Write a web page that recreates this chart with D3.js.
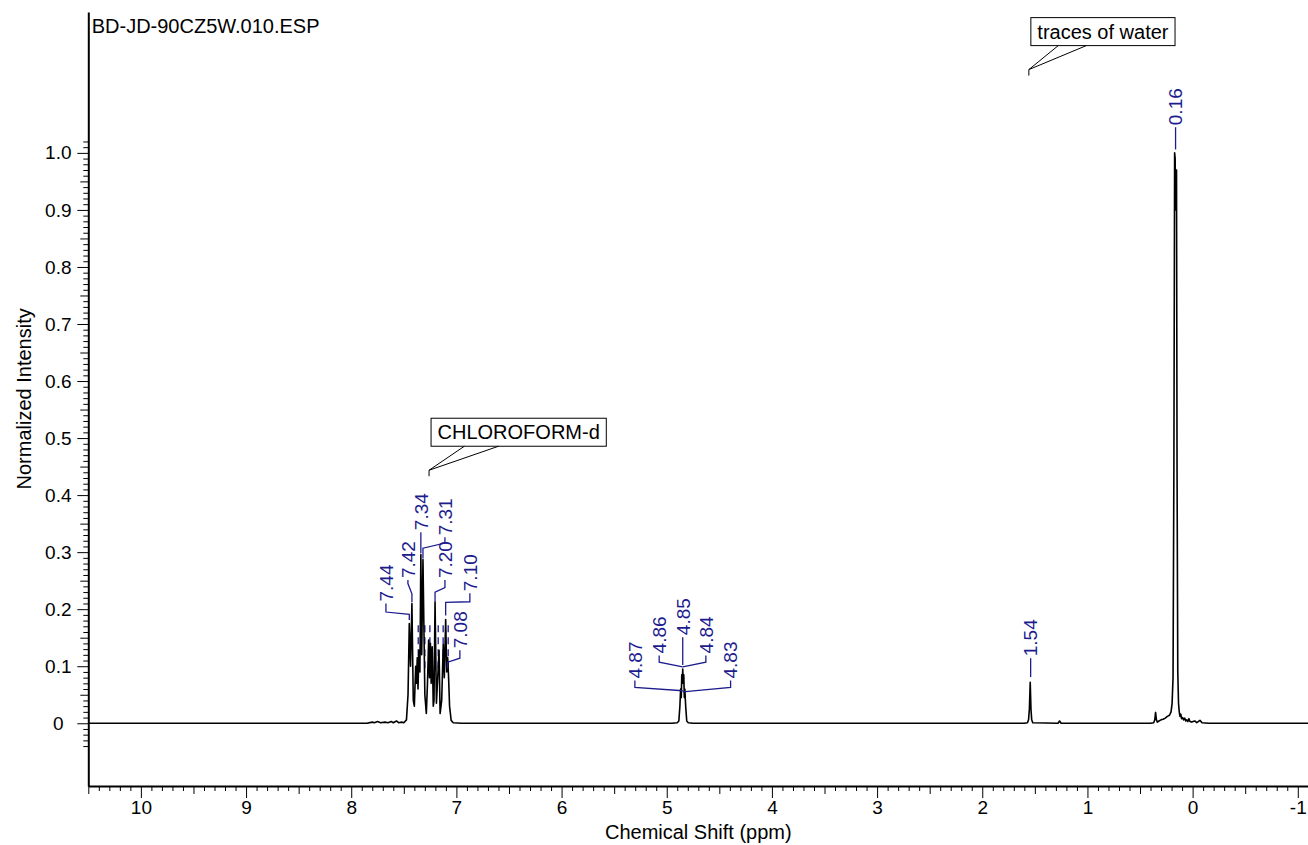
<!DOCTYPE html>
<meta charset="utf-8">
<style>
body {
  margin: 0;
  background: #fff;
}
svg {
  font-family: "Liberation Sans", Arial, sans-serif;
}
.axis path, .axis line {
  stroke: #000;
}
.axis text {
  font-size: 19px;
  fill: #000;
}
</style>
<body>
<script src="https://cdn.jsdelivr.net/npm/d3@7"></script>
<script>

// 1H NMR spectrum, normalized intensity vs chemical shift

var spectrumTitle = "BD-JD-90CZ5W.010.ESP";

// [ppm, intensity], high field to low
var spectrum = [
  [10.5, 0], [7.85, 0], [7.80, 0.002], [7.78, 0.001], [7.75, 0.003], [7.72, 0.001],
  [7.68, 0.002], [7.65, 0.001], [7.62, 0.003], [7.60, 0.001], [7.57, 0.004],
  [7.55, 0.001], [7.52, 0.002], [7.50, 0.001],
  [7.475, 0.006], [7.46, 0.05], [7.448, 0.175], [7.436, 0.10], [7.423, 0.210],
  [7.41, 0.04], [7.40, 0.03], [7.387, 0.10], [7.38, 0.07], [7.372, 0.115],
  [7.365, 0.06], [7.356, 0.128], [7.347, 0.09], [7.338, 0.296], [7.33, 0.12],
  [7.318, 0.287], [7.30, 0.05], [7.286, 0.017], [7.275, 0.07], [7.264, 0.146],
  [7.256, 0.08], [7.247, 0.14], [7.24, 0.07], [7.23, 0.134], [7.22, 0.03],
  [7.213, 0.04], [7.203, 0.213], [7.19, 0.035], [7.175, 0.09], [7.165, 0.128],
  [7.155, 0.017], [7.14, 0.04], [7.125, 0.138], [7.115, 0.08], [7.102, 0.182],
  [7.092, 0.09], [7.083, 0.115], [7.075, 0.084], [7.065, 0.03], [7.05, 0.005],
  [7.03, 0.001], [6.95, 0],
  [4.95, 0], [4.90, 0.001], [4.885, 0.004], [4.875, 0.03], [4.868, 0.06],
  [4.862, 0.045], [4.857, 0.085], [4.852, 0.07], [4.848, 0.095], [4.843, 0.07],
  [4.838, 0.085], [4.833, 0.045], [4.828, 0.06], [4.82, 0.03], [4.81, 0.004],
  [4.795, 0.001], [4.75, 0],
  [1.60, 0], [1.57, 0.001], [1.56, 0.006], [1.552, 0.025], [1.544, 0.072],
  [1.537, 0.025], [1.53, 0.006], [1.52, 0.001], [1.28, 0], [1.265, 0.004], [1.25, 0],
  [0.40, 0], [0.37, 0.001], [0.36, 0.006], [0.352, 0.019], [0.344, 0.006],
  [0.335, 0.002], [0.32, 0.004], [0.30, 0.006], [0.28, 0.007], [0.26, 0.009],
  [0.24, 0.012], [0.22, 0.014], [0.205, 0.02], [0.195, 0.035], [0.186, 0.08],
  [0.178, 0.45], [0.171, 1.0], [0.166, 0.99], [0.162, 0.9], [0.158, 0.97],
  [0.153, 0.97], [0.148, 0.45], [0.141, 0.09], [0.134, 0.035], [0.127, 0.02],
  [0.12, 0.012], [0.112, 0.016], [0.105, 0.008], [0.095, 0.01], [0.085, 0.006],
  [0.075, 0.009], [0.065, 0.004], [0.055, 0.006], [0.045, 0.003], [0.035, 0.008],
  [0.025, 0.003], [0.01, 0.002], [-0.02, 0.004], [-0.04, 0.001], [-0.07, 0.005],
  [-0.09, 0.001], [-0.15, 0], [-1.1, 0]
];

// peak picking labels
var labelText = ["7.44", "7.42", "7.34", "7.31", "7.20", "7.10", "7.08",
                 "4.87", "4.86", "4.85", "4.84", "4.83", "1.54", "0.16"];
var labelPeak = [7.448, 7.423, 7.338, 7.318, 7.203, 7.102, 7.083,
                 4.848, 4.848, 4.848, 4.848, 4.848, 1.540, 0.162];

// leader layout: [text ppm, text start, bend at text, bend at peak, end at peak]
var labelLayout = [
  [7.670, 0.210, 0.195, 0.191, 0.181],
  [7.461, 0.251, 0.245, 0.227, 0.212],
  [7.338, 0.335, 0.335, 0.335, 0.298],
  [7.109, 0.326, 0.316, 0.307, 0.289],
  [7.109, 0.251, 0.238, 0.230, 0.214],
  [6.872, 0.228, 0.213, 0.212, 0.189],
  [6.967, 0.128, 0.114, 0.107, 0.096],
  [5.303, 0.075, 0.063, 0.057, 0.057],
  [5.072, 0.119, 0.107, 0.099, 0.099],
  [4.848, 0.151, 0.151, 0.151, 0.102],
  [4.628, 0.119, 0.107, 0.099, 0.099],
  [4.393, 0.075, 0.063, 0.055, 0.055],
  [1.540, 0.114, 0.114, 0.114, 0.081],
  [0.162, 1.045, 1.045, 1.045, 1.006]
];

// dashed peak markers inside the aromatic multiplet
var markerPpm = [7.363, 7.300, 7.252, 7.173, 7.126, 7.078];

// solvent / impurity callouts
var calloutText = ["CHLOROFORM-d", "traces of water"];
var calloutPpm = [7.26, 1.557];
var calloutTip = [0.4436, 1.146];

var xMajor = d3.range(10, -2, -1);
var yMajor = d3.range(0, 11).map(function(i) { return i / 10; });

var width = 1308,
    height = 845,
    blue = "#1c1c8e";

var x = d3.scaleLinear()
    .domain([10.5, -1.1])
    .range([88.3, 1308.3]);

var y = d3.scaleLinear()
    .domain([-0.11, 1.247])
    .range([786, 12]);

var svg = d3.select("body").append("svg")
    .attr("width", width)
    .attr("height", height);

// x axis: majors, half units, tenths
var xMid = d3.range(-11, 106).filter(function(i) { return i % 10 !== 0 && Math.abs(i % 10) === 5; }).map(function(i) { return i / 10; });
var xMinor = d3.range(-11, 106).filter(function(i) { return i % 5 !== 0; }).map(function(i) { return i / 10; });

svg.append("g")
    .attr("class", "axis")
    .attr("transform", "translate(0,786)")
    .call(d3.axisBottom(x).tickValues(xMinor).tickSize(5).tickSizeOuter(0).tickFormat(""))
    .call(function(g) { g.select(".domain").remove(); });

svg.append("g")
    .attr("class", "axis")
    .attr("transform", "translate(0,786)")
    .call(d3.axisBottom(x).tickValues(xMid).tickSize(8).tickSizeOuter(0).tickFormat(""))
    .call(function(g) { g.select(".domain").remove(); });

var xAxis = svg.append("g")
    .attr("class", "axis")
    .attr("transform", "translate(0,786)")
    .call(d3.axisBottom(x).tickValues(xMajor).tickSize(12).tickSizeOuter(0)
      .tickFormat(function(d) { return String(d); }));
xAxis.select(".domain").attr("stroke-width", 2);

// y axis
var yMid = d3.range(-4, 103).filter(function(i) { return i % 10 !== 0 && Math.abs(i % 10) === 5; }).map(function(i) { return i / 100; });
var yMinor = d3.range(-4, 103).filter(function(i) { return i % 5 !== 0; }).map(function(i) { return i / 100; });

svg.append("g")
    .attr("class", "axis")
    .attr("transform", "translate(88.3,0)")
    .call(d3.axisLeft(y).tickValues(yMinor).tickSize(5).tickSizeOuter(0).tickFormat(""))
    .call(function(g) { g.select(".domain").remove(); });

svg.append("g")
    .attr("class", "axis")
    .attr("transform", "translate(88.3,0)")
    .call(d3.axisLeft(y).tickValues(yMid).tickSize(8).tickSizeOuter(0).tickFormat(""))
    .call(function(g) { g.select(".domain").remove(); });

var yAxis = svg.append("g")
    .attr("class", "axis")
    .attr("transform", "translate(88.3,0)")
    .call(d3.axisLeft(y).tickValues(yMajor).tickSize(11).tickSizeOuter(0)
      .tickFormat(function(d) { return d === 0 ? "0" : d3.format(".1f")(d); }));
yAxis.select(".domain").attr("stroke-width", 2);
yAxis.selectAll("text")
    .attr("x", -30)
    .attr("text-anchor", "middle");

// axis titles
svg.append("text")
    .attr("x", x(4.7))
    .attr("y", 839)
    .attr("text-anchor", "middle")
    .style("font-size", "20px")
    .text("Chemical Shift (ppm)");

svg.append("text")
    .attr("transform", "translate(31," + y(0.5687) + ") rotate(-90)")
    .attr("text-anchor", "middle")
    .style("font-size", "20px")
    .text("Normalized Intensity");

svg.append("text")
    .attr("x", 91.7)
    .attr("y", 33)
    .style("font-size", "20px")
    .text(spectrumTitle);

// dashed markers under the trace
svg.append("g").selectAll("line")
    .data(markerPpm)
  .enter().append("line")
    .attr("x1", function(d) { return x(d); })
    .attr("x2", function(d) { return x(d); })
    .attr("y1", y(0.172))
    .attr("y2", y(0.09))
    .attr("stroke", blue)
    .attr("stroke-width", 1.3)
    .attr("stroke-dasharray", "7,5");

// spectrum trace
var line = d3.line()
    .x(function(d) { return x(d[0]); })
    .y(function(d) { return y(d[1]); });

svg.append("path")
    .datum(spectrum)
    .attr("d", line)
    .attr("fill", "none")
    .attr("stroke", "#000")
    .attr("stroke-width", 1.6)
    .attr("stroke-linejoin", "round");

// peak labels
var labels = svg.append("g")
    .attr("fill", blue)
    .style("font-size", "19px");

labelText.forEach(function(t, i) {
  var L = labelLayout[i], p = labelPeak[i];
  var pts = [[p, L[4]], [p, L[3]], [L[0], L[2]], [L[0], L[1]]];
  labels.append("path")
      .attr("d", line(pts))
      .attr("fill", "none")
      .attr("stroke", blue)
      .attr("stroke-width", 1.3);
  labels.append("text")
      .attr("transform", "translate(" + x(L[0]) + "," + (y(L[1]) - 2) + ") rotate(-90)")
      .attr("dy", "0.36em")
      .text(t);
});

// callouts
calloutText.forEach(function(t, i) {
  var g = svg.append("g");
  var tx = x(calloutPpm[i]), ty = y(calloutTip[i]);
  var txt = g.append("text")
      .style("font-size", "20px")
      .attr("x", tx + 8.5)
      .attr("y", ty - 31)
      .text(t);
  var w = txt.node().getComputedTextLength() + 13;
  var left = tx + 2, bottom = ty - 24;
  g.insert("rect", "text")
      .attr("x", left)
      .attr("y", bottom - 28)
      .attr("width", w)
      .attr("height", 28)
      .attr("fill", "#fff")
      .attr("stroke", "#000");
  g.append("path")
      .attr("d", "M" + (left + 0.19 * w) + "," + bottom + "L" + tx + "," + ty +
                 "L" + (left + 0.385 * w) + "," + bottom + "M" + tx + "," + ty + "V" + (ty + 6))
      .attr("fill", "none")
      .attr("stroke", "#000");
});

</script>
